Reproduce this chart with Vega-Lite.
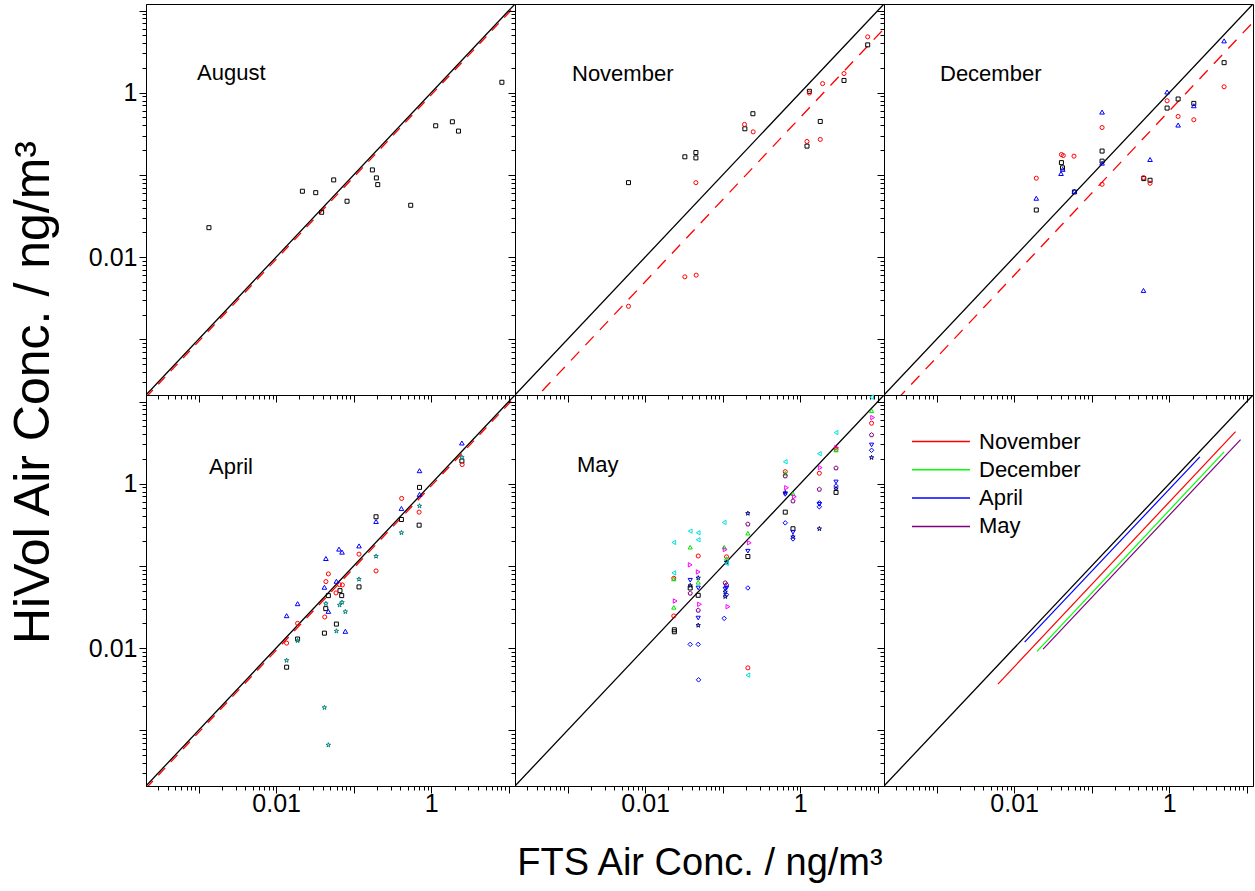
{
  "$schema": "https://vega.github.io/schema/vega-lite/v6.json",
  "background": "white",
  "padding": {"left": 7, "top": -2, "right": 0, "bottom": 0},
  "datasets": {
    "pts": [
      {"panel": "August", "series": "s1", "fts": 0.00136, "hivol": 0.0228},
      {"panel": "August", "series": "s1", "fts": 0.0218, "hivol": 0.0633},
      {"panel": "August", "series": "s1", "fts": 0.0324, "hivol": 0.0608},
      {"panel": "August", "series": "s1", "fts": 0.0552, "hivol": 0.0869},
      {"panel": "August", "series": "s1", "fts": 0.0386, "hivol": 0.0351},
      {"panel": "August", "series": "s1", "fts": 0.082, "hivol": 0.0478},
      {"panel": "August", "series": "s1", "fts": 0.174, "hivol": 0.115},
      {"panel": "August", "series": "s1", "fts": 0.196, "hivol": 0.0919},
      {"panel": "August", "series": "s1", "fts": 0.204, "hivol": 0.0762},
      {"panel": "August", "series": "s1", "fts": 0.543, "hivol": 0.0427},
      {"panel": "August", "series": "s1", "fts": 1.14, "hivol": 0.396},
      {"panel": "August", "series": "s1", "fts": 1.87, "hivol": 0.443},
      {"panel": "August", "series": "s1", "fts": 2.24, "hivol": 0.341},
      {"panel": "August", "series": "s1", "fts": 8.13, "hivol": 1.34},

      {"panel": "November", "series": "s1", "fts": 0.0061, "hivol": 0.0805},
      {"panel": "November", "series": "s1", "fts": 0.0325, "hivol": 0.166},
      {"panel": "November", "series": "s1", "fts": 0.0451, "hivol": 0.187},
      {"panel": "November", "series": "s1", "fts": 0.0451, "hivol": 0.161},
      {"panel": "November", "series": "s1", "fts": 0.193, "hivol": 0.364},
      {"panel": "November", "series": "s1", "fts": 0.245, "hivol": 0.555},
      {"panel": "November", "series": "s1", "fts": 1.31, "hivol": 1.04},
      {"panel": "November", "series": "s1", "fts": 1.81, "hivol": 0.447},
      {"panel": "November", "series": "s1", "fts": 1.22, "hivol": 0.224},
      {"panel": "November", "series": "s1", "fts": 3.66, "hivol": 1.41},
      {"panel": "November", "series": "s1", "fts": 7.4, "hivol": 3.82},
      {"panel": "November", "series": "s2", "fts": 0.0061, "hivol": 0.00252},
      {"panel": "November", "series": "s2", "fts": 0.0325, "hivol": 0.00575},
      {"panel": "November", "series": "s2", "fts": 0.0455, "hivol": 0.00603},
      {"panel": "November", "series": "s2", "fts": 0.0451, "hivol": 0.0805},
      {"panel": "November", "series": "s2", "fts": 0.191, "hivol": 0.411},
      {"panel": "November", "series": "s2", "fts": 0.247, "hivol": 0.334},
      {"panel": "November", "series": "s2", "fts": 1.22, "hivol": 0.255},
      {"panel": "November", "series": "s2", "fts": 1.81, "hivol": 0.27},
      {"panel": "November", "series": "s2", "fts": 1.31, "hivol": 0.99},
      {"panel": "November", "series": "s2", "fts": 1.94, "hivol": 1.29},
      {"panel": "November", "series": "s2", "fts": 3.66, "hivol": 1.71},
      {"panel": "November", "series": "s2", "fts": 7.4, "hivol": 4.78},

      {"panel": "December", "series": "s1", "fts": 0.0193, "hivol": 0.0374},
      {"panel": "December", "series": "s1", "fts": 0.0407, "hivol": 0.141},
      {"panel": "December", "series": "s1", "fts": 0.042, "hivol": 0.122},
      {"panel": "December", "series": "s1", "fts": 0.0598, "hivol": 0.062},
      {"panel": "December", "series": "s1", "fts": 0.136, "hivol": 0.195},
      {"panel": "December", "series": "s1", "fts": 0.136, "hivol": 0.147},
      {"panel": "December", "series": "s1", "fts": 0.469, "hivol": 0.0901},
      {"panel": "December", "series": "s1", "fts": 0.565, "hivol": 0.0861},
      {"panel": "December", "series": "s1", "fts": 0.937, "hivol": 0.65},
      {"panel": "December", "series": "s1", "fts": 1.3, "hivol": 0.838},
      {"panel": "December", "series": "s1", "fts": 2.07, "hivol": 0.741},
      {"panel": "December", "series": "s1", "fts": 5.09, "hivol": 2.32},
      {"panel": "December", "series": "s2", "fts": 0.0193, "hivol": 0.0912},
      {"panel": "December", "series": "s2", "fts": 0.0407, "hivol": 0.177},
      {"panel": "December", "series": "s2", "fts": 0.043, "hivol": 0.172},
      {"panel": "December", "series": "s2", "fts": 0.0591, "hivol": 0.169},
      {"panel": "December", "series": "s2", "fts": 0.136, "hivol": 0.377},
      {"panel": "December", "series": "s2", "fts": 0.136, "hivol": 0.0769},
      {"panel": "December", "series": "s2", "fts": 0.465, "hivol": 0.0927},
      {"panel": "December", "series": "s2", "fts": 0.565, "hivol": 0.0792},
      {"panel": "December", "series": "s2", "fts": 0.937, "hivol": 0.798},
      {"panel": "December", "series": "s2", "fts": 1.3, "hivol": 0.514},
      {"panel": "December", "series": "s2", "fts": 2.07, "hivol": 0.469},
      {"panel": "December", "series": "s2", "fts": 5.09, "hivol": 1.18},
      {"panel": "December", "series": "s10", "fts": 0.0193, "hivol": 0.052},
      {"panel": "December", "series": "s10", "fts": 0.0402, "hivol": 0.104},
      {"panel": "December", "series": "s10", "fts": 0.0423, "hivol": 0.117},
      {"panel": "December", "series": "s10", "fts": 0.0598, "hivol": 0.0633},
      {"panel": "December", "series": "s10", "fts": 0.136, "hivol": 0.581},
      {"panel": "December", "series": "s10", "fts": 0.136, "hivol": 0.139},
      {"panel": "December", "series": "s10", "fts": 0.565, "hivol": 0.154},
      {"panel": "December", "series": "s10", "fts": 0.465, "hivol": 0.00393},
      {"panel": "December", "series": "s10", "fts": 0.937, "hivol": 1.02},
      {"panel": "December", "series": "s10", "fts": 1.3, "hivol": 0.404},
      {"panel": "December", "series": "s10", "fts": 2.07, "hivol": 0.694},
      {"panel": "December", "series": "s10", "fts": 5.09, "hivol": 4.27},

      {"panel": "April", "series": "s1", "fts": 0.01365, "hivol": 0.00586},
      {"panel": "April", "series": "s1", "fts": 0.0189, "hivol": 0.0129},
      {"panel": "April", "series": "s1", "fts": 0.0419, "hivol": 0.0152},
      {"panel": "April", "series": "s1", "fts": 0.0436, "hivol": 0.0302},
      {"panel": "April", "series": "s1", "fts": 0.0471, "hivol": 0.0435},
      {"panel": "April", "series": "s1", "fts": 0.0598, "hivol": 0.0196},
      {"panel": "April", "series": "s1", "fts": 0.0665, "hivol": 0.05},
      {"panel": "April", "series": "s1", "fts": 0.07, "hivol": 0.0435},
      {"panel": "April", "series": "s1", "fts": 0.117, "hivol": 0.0555},
      {"panel": "April", "series": "s1", "fts": 0.194, "hivol": 0.396},
      {"panel": "April", "series": "s1", "fts": 0.412, "hivol": 0.367},
      {"panel": "April", "series": "s1", "fts": 0.705, "hivol": 0.902},
      {"panel": "April", "series": "s1", "fts": 0.697, "hivol": 0.313},
      {"panel": "April", "series": "s1", "fts": 2.48, "hivol": 1.89},
      {"panel": "April", "series": "s2", "fts": 0.01365, "hivol": 0.0115},
      {"panel": "April", "series": "s2", "fts": 0.0189, "hivol": 0.02},
      {"panel": "April", "series": "s2", "fts": 0.0423, "hivol": 0.0239},
      {"panel": "April", "series": "s2", "fts": 0.0438, "hivol": 0.0644},
      {"panel": "April", "series": "s2", "fts": 0.0471, "hivol": 0.0799},
      {"panel": "April", "series": "s2", "fts": 0.0591, "hivol": 0.0469},
      {"panel": "April", "series": "s2", "fts": 0.0654, "hivol": 0.0592},
      {"panel": "April", "series": "s2", "fts": 0.0714, "hivol": 0.0587},
      {"panel": "April", "series": "s2", "fts": 0.117, "hivol": 0.139},
      {"panel": "April", "series": "s2", "fts": 0.194, "hivol": 0.0869},
      {"panel": "April", "series": "s2", "fts": 0.415, "hivol": 0.662},
      {"panel": "April", "series": "s2", "fts": 0.697, "hivol": 0.451},
      {"panel": "April", "series": "s2", "fts": 2.5, "hivol": 1.71},
      {"panel": "April", "series": "s10", "fts": 0.01365, "hivol": 0.0248},
      {"panel": "April", "series": "s10", "fts": 0.0189, "hivol": 0.0347},
      {"panel": "April", "series": "s10", "fts": 0.0438, "hivol": 0.123},
      {"panel": "April", "series": "s10", "fts": 0.0419, "hivol": 0.055},
      {"panel": "April", "series": "s10", "fts": 0.0471, "hivol": 0.028},
      {"panel": "April", "series": "s10", "fts": 0.0646, "hivol": 0.16},
      {"panel": "April", "series": "s10", "fts": 0.0707, "hivol": 0.147},
      {"panel": "April", "series": "s10", "fts": 0.0598, "hivol": 0.065},
      {"panel": "April", "series": "s10", "fts": 0.078, "hivol": 0.016},
      {"panel": "April", "series": "s10", "fts": 0.117, "hivol": 0.175},
      {"panel": "April", "series": "s10", "fts": 0.194, "hivol": 0.347},
      {"panel": "April", "series": "s10", "fts": 0.412, "hivol": 0.5},
      {"panel": "April", "series": "s10", "fts": 0.705, "hivol": 1.44},
      {"panel": "April", "series": "s10", "fts": 0.705, "hivol": 0.741},
      {"panel": "April", "series": "s10", "fts": 2.48, "hivol": 3.13},
      {"panel": "April", "series": "s11", "fts": 0.01365, "hivol": 0.00708},
      {"panel": "April", "series": "s11", "fts": 0.0189, "hivol": 0.0123},
      {"panel": "April", "series": "s11", "fts": 0.0419, "hivol": 0.00189},
      {"panel": "April", "series": "s11", "fts": 0.0471, "hivol": 0.000662},
      {"panel": "April", "series": "s11", "fts": 0.0438, "hivol": 0.0347},
      {"panel": "April", "series": "s11", "fts": 0.0598, "hivol": 0.0161},
      {"panel": "April", "series": "s11", "fts": 0.0658, "hivol": 0.0334},
      {"panel": "April", "series": "s11", "fts": 0.0707, "hivol": 0.036},
      {"panel": "April", "series": "s11", "fts": 0.078, "hivol": 0.0277},
      {"panel": "April", "series": "s11", "fts": 0.117, "hivol": 0.0688},
      {"panel": "April", "series": "s11", "fts": 0.194, "hivol": 0.131},
      {"panel": "April", "series": "s11", "fts": 0.412, "hivol": 0.253},
      {"panel": "April", "series": "s11", "fts": 0.705, "hivol": 0.535},
      {"panel": "April", "series": "s11", "fts": 2.48, "hivol": 2.09},

      {"panel": "May", "series": "s5", "fts": 0.0234, "hivol": 0.193},
      {"panel": "May", "series": "s5", "fts": 0.0234, "hivol": 0.0822},
      {"panel": "May", "series": "s2", "fts": 0.0234, "hivol": 0.0707},
      {"panel": "May", "series": "s3", "fts": 0.0234, "hivol": 0.0694},
      {"panel": "May", "series": "s6", "fts": 0.0244, "hivol": 0.0374},
      {"panel": "May", "series": "s3", "fts": 0.0234, "hivol": 0.0313},
      {"panel": "May", "series": "s2", "fts": 0.0234, "hivol": 0.0246},
      {"panel": "May", "series": "s1", "fts": 0.0238, "hivol": 0.0167},
      {"panel": "May", "series": "s1", "fts": 0.0238, "hivol": 0.0158},
      {"panel": "May", "series": "s5", "fts": 0.0381, "hivol": 0.265},
      {"panel": "May", "series": "s3", "fts": 0.0381, "hivol": 0.169},
      {"panel": "May", "series": "s6", "fts": 0.0381, "hivol": 0.103},
      {"panel": "May", "series": "s4", "fts": 0.0381, "hivol": 0.0669},
      {"panel": "May", "series": "s9", "fts": 0.0381, "hivol": 0.0576},
      {"panel": "May", "series": "s1", "fts": 0.0381, "hivol": 0.0539},
      {"panel": "May", "series": "s7", "fts": 0.0381, "hivol": 0.0464},
      {"panel": "May", "series": "s8", "fts": 0.0381, "hivol": 0.0111},
      {"panel": "May", "series": "s5", "fts": 0.0483, "hivol": 0.253},
      {"panel": "May", "series": "s5", "fts": 0.0483, "hivol": 0.208},
      {"panel": "May", "series": "s2", "fts": 0.0483, "hivol": 0.132},
      {"panel": "May", "series": "s6", "fts": 0.0483, "hivol": 0.0845},
      {"panel": "May", "series": "s9", "fts": 0.0483, "hivol": 0.0714},
      {"panel": "May", "series": "s3", "fts": 0.0483, "hivol": 0.0632},
      {"panel": "May", "series": "s4", "fts": 0.0483, "hivol": 0.0539},
      {"panel": "May", "series": "s1", "fts": 0.0483, "hivol": 0.0439},
      {"panel": "May", "series": "s6", "fts": 0.0502, "hivol": 0.0341},
      {"panel": "May", "series": "s7", "fts": 0.0483, "hivol": 0.0288},
      {"panel": "May", "series": "s4", "fts": 0.0483, "hivol": 0.0232},
      {"panel": "May", "series": "s9", "fts": 0.0483, "hivol": 0.0189},
      {"panel": "May", "series": "s8", "fts": 0.0483, "hivol": 0.0111},
      {"panel": "May", "series": "s8", "fts": 0.0488, "hivol": 0.00411},
      {"panel": "May", "series": "s5", "fts": 0.1045, "hivol": 0.338},
      {"panel": "May", "series": "s3", "fts": 0.1045, "hivol": 0.169},
      {"panel": "May", "series": "s6", "fts": 0.1076, "hivol": 0.158},
      {"panel": "May", "series": "s2", "fts": 0.112, "hivol": 0.129},
      {"panel": "May", "series": "s3", "fts": 0.112, "hivol": 0.123},
      {"panel": "May", "series": "s9", "fts": 0.112, "hivol": 0.111},
      {"panel": "May", "series": "s5", "fts": 0.112, "hivol": 0.107},
      {"panel": "May", "series": "s7", "fts": 0.1076, "hivol": 0.0621},
      {"panel": "May", "series": "s7", "fts": 0.112, "hivol": 0.0586},
      {"panel": "May", "series": "s4", "fts": 0.1076, "hivol": 0.0524},
      {"panel": "May", "series": "s4", "fts": 0.112, "hivol": 0.0539},
      {"panel": "May", "series": "s9", "fts": 0.1076, "hivol": 0.0482},
      {"panel": "May", "series": "s8", "fts": 0.112, "hivol": 0.0447},
      {"panel": "May", "series": "s9", "fts": 0.1076, "hivol": 0.0423},
      {"panel": "May", "series": "s6", "fts": 0.1167, "hivol": 0.0319},
      {"panel": "May", "series": "s8", "fts": 0.1045, "hivol": 0.023},
      {"panel": "May", "series": "s9", "fts": 0.211, "hivol": 0.435},
      {"panel": "May", "series": "s7", "fts": 0.211, "hivol": 0.322},
      {"panel": "May", "series": "s3", "fts": 0.211, "hivol": 0.25},
      {"panel": "May", "series": "s6", "fts": 0.22, "hivol": 0.191},
      {"panel": "May", "series": "s4", "fts": 0.211, "hivol": 0.151},
      {"panel": "May", "series": "s1", "fts": 0.211, "hivol": 0.13},
      {"panel": "May", "series": "s8", "fts": 0.211, "hivol": 0.0539},
      {"panel": "May", "series": "s2", "fts": 0.211, "hivol": 0.00575},
      {"panel": "May", "series": "s5", "fts": 0.211, "hivol": 0.00469},
      {"panel": "May", "series": "s5", "fts": 0.64, "hivol": 1.85},
      {"panel": "May", "series": "s2", "fts": 0.64, "hivol": 1.4},
      {"panel": "May", "series": "s3", "fts": 0.64, "hivol": 1.34},
      {"panel": "May", "series": "s7", "fts": 0.64, "hivol": 1.24},
      {"panel": "May", "series": "s6", "fts": 0.665, "hivol": 0.894},
      {"panel": "May", "series": "s9", "fts": 0.64, "hivol": 0.777},
      {"panel": "May", "series": "s4", "fts": 0.64, "hivol": 0.741},
      {"panel": "May", "series": "s1", "fts": 0.64, "hivol": 0.451},
      {"panel": "May", "series": "s8", "fts": 0.64, "hivol": 0.334},
      {"panel": "May", "series": "s3", "fts": 0.805, "hivol": 0.755},
      {"panel": "May", "series": "s6", "fts": 0.838, "hivol": 0.694},
      {"panel": "May", "series": "s7", "fts": 0.805, "hivol": 0.615},
      {"panel": "May", "series": "s1", "fts": 0.805, "hivol": 0.283},
      {"panel": "May", "series": "s4", "fts": 0.805, "hivol": 0.257},
      {"panel": "May", "series": "s9", "fts": 0.805, "hivol": 0.226},
      {"panel": "May", "series": "s8", "fts": 0.805, "hivol": 0.213},
      {"panel": "May", "series": "s5", "fts": 1.76, "hivol": 2.32},
      {"panel": "May", "series": "s6", "fts": 1.81, "hivol": 1.57},
      {"panel": "May", "series": "s2", "fts": 1.76, "hivol": 1.34},
      {"panel": "May", "series": "s7", "fts": 1.76, "hivol": 0.853},
      {"panel": "May", "series": "s8", "fts": 1.76, "hivol": 0.586},
      {"panel": "May", "series": "s4", "fts": 1.76, "hivol": 0.56},
      {"panel": "May", "series": "s8", "fts": 1.76, "hivol": 0.524},
      {"panel": "May", "series": "s9", "fts": 1.76, "hivol": 0.283},
      {"panel": "May", "series": "s5", "fts": 2.89, "hivol": 4.19},
      {"panel": "May", "series": "s6", "fts": 2.94, "hivol": 2.75},
      {"panel": "May", "series": "s2", "fts": 2.89, "hivol": 2.62},
      {"panel": "May", "series": "s3", "fts": 2.89, "hivol": 2.57},
      {"panel": "May", "series": "s7", "fts": 2.89, "hivol": 1.55},
      {"panel": "May", "series": "s4", "fts": 2.89, "hivol": 1.05},
      {"panel": "May", "series": "s8", "fts": 2.89, "hivol": 0.937},
      {"panel": "May", "series": "s9", "fts": 2.89, "hivol": 0.869},
      {"panel": "May", "series": "s1", "fts": 2.89, "hivol": 0.784},
      {"panel": "May", "series": "s5", "fts": 8.3, "hivol": 11.3},
      {"panel": "May", "series": "s3", "fts": 8.3, "hivol": 7.7},
      {"panel": "May", "series": "s6", "fts": 8.57, "hivol": 6.38},
      {"panel": "May", "series": "s2", "fts": 8.3, "hivol": 5.44},
      {"panel": "May", "series": "s7", "fts": 8.3, "hivol": 3.92},
      {"panel": "May", "series": "s4", "fts": 8.3, "hivol": 2.96},
      {"panel": "May", "series": "s8", "fts": 8.3, "hivol": 2.55},
      {"panel": "May", "series": "s9", "fts": 8.3, "hivol": 2.08}
    ],
    "diag": [
      {"fts": 0.00021, "hivol": 0.00021},
      {"fts": 12, "hivol": 12}
    ],
    "fits": [
      {"panel": "August", "fts": 0.00021, "hivol": 0.000197},
      {"panel": "August", "fts": 12, "hivol": 11.3},
      {"panel": "November", "fts": 0.0002, "hivol": 0.0001},
      {"panel": "November", "fts": 12, "hivol": 6.0},
      {"panel": "December", "fts": 0.0002, "hivol": 0.00012},
      {"panel": "December", "fts": 12, "hivol": 7.2},
      {"panel": "April", "fts": 0.00021, "hivol": 0.000197},
      {"panel": "April", "fts": 12, "hivol": 11.3}
    ],
    "monthlines": [
      {"month": "November", "fts": 0.00618, "hivol": 0.00364},
      {"month": "November", "fts": 7.15, "hivol": 4.31},
      {"month": "December", "fts": 0.0197, "hivol": 0.00912},
      {"month": "December", "fts": 5.09, "hivol": 2.44},
      {"month": "April", "fts": 0.01365, "hivol": 0.01184},
      {"month": "April", "fts": 2.48, "hivol": 2.12},
      {"month": "May", "fts": 0.0236, "hivol": 0.00972},
      {"month": "May", "fts": 8.3, "hivol": 3.44}
    ]
  },
  "config": {
    "view": {"stroke": "#000000", "strokeWidth": 1},
    "axis": {
      "grid": false,
      "domainColor": "#000000",
      "tickColor": "#000000",
      "tickWidth": 1,
      "labelColor": "#000000",
      "labelFont": "Liberation Sans",
      "labelFontSize": 25,
      "titleFont": "Liberation Sans",
      "titleFontSize": 38,
      "titleFontWeight": "normal",
      "titleColor": "#000000"
    },
    "axisX": {"labelPadding": -2},
    "axisY": {"labelPadding": 2},
    "title": {"font": "Liberation Sans", "fontSize": 22, "fontWeight": "normal", "color": "#000000"}
  },
  "columns": 3,
  "spacing": 0,
  "bounds": "flush",
  "resolve": {"scale": {"stroke": "independent"}, "legend": {"stroke": "independent"}},
  "concat": [
    {
      "width": 369, "height": 391,
      "title": {"text": "August", "anchor": "start", "frame": "group", "orient": "top", "offset": 0, "dx": 51, "dy": 103, "baseline": "alphabetic"},
      "encoding": {
        "x": {"field": "fts", "type": "quantitative", "scale": {"type": "log", "domain": [0.00021, 12]},
          "axis": {"title": null, "labels": false, "values": [0.0003,0.0004,0.0005,0.0006,0.0007,0.0008,0.0009,0.001,0.002,0.003,0.004,0.005,0.006,0.007,0.008,0.009,0.01,0.02,0.03,0.04,0.05,0.06,0.07,0.08,0.09,0.1,0.2,0.3,0.4,0.5,0.6,0.7,0.8,0.9,1,2,3,4,5,6,7,8,9,10],
            "tickSize": {"condition": {"test": "indexof([0.001,0.01,0.1,1,10], datum.value) >= 0", "value": 7}, "value": 4}}},
        "y": {"field": "hivol", "type": "quantitative", "scale": {"type": "log", "domain": [0.00021, 12]},
          "axis": {"title": "HiVol Air Conc. / ng/m³", "titleFontSize": 50, "titleX": -88, "titleY": 388, "labelOverlap": false, "labelFlush": false, "labelExpr": "datum.value == 1 ? '1' : datum.value == 0.01 ? '0.01' : ''", "values": [0.0003,0.0004,0.0005,0.0006,0.0007,0.0008,0.0009,0.001,0.002,0.003,0.004,0.005,0.006,0.007,0.008,0.009,0.01,0.02,0.03,0.04,0.05,0.06,0.07,0.08,0.09,0.1,0.2,0.3,0.4,0.5,0.6,0.7,0.8,0.9,1,2,3,4,5,6,7,8,9,10],
            "tickSize": {"condition": {"test": "indexof([0.001,0.01,0.1,1,10], datum.value) >= 0", "value": 7}, "value": 4}}}
      },
      "layer": [
        {"data": {"name": "diag"}, "mark": {"type": "line", "color": "#000000", "strokeWidth": 1.3, "clip": true}, "encoding": {}},
        {"data": {"name": "fits"}, "transform": [{"filter": "datum.panel == 'August'"}], "mark": {"type": "line", "color": "#ff0000", "strokeWidth": 1.3, "strokeDash": [10, 8], "clip": true}, "encoding": {}},
        {"data": {"name": "pts"}, "transform": [{"filter": "datum.panel == 'August'"}], "mark": {"type": "point", "filled": false, "strokeWidth": 1, "opacity": 1},
          "encoding": {
            "color": {"field": "series", "type": "nominal", "legend": null, "scale": {"domain": ["s1","s2","s3","s4","s5","s6","s7","s8","s9","s10","s11"], "range": ["#000000","#ff0000","#00e000","#0000ff","#00e0e0","#ff00ff","#800080","#0000ff","#000080","#0000ff","#008080"]}},
            "shape": {"field": "series", "type": "nominal", "legend": null, "scale": {"domain": ["s1","s2","s3","s4","s5","s6","s7","s8","s9","s10","s11"], "range": ["square","circle","triangle-up","triangle-down","triangle-left","triangle-right","M0,-1L0.951,-0.309L0.588,0.809L-0.588,0.809L-0.951,-0.309Z","diamond","M0,-1L0.2245,-0.309L0.951,-0.309L0.363,0.118L0.588,0.809L0,0.382L-0.588,0.809L-0.363,0.118L-0.951,-0.309L-0.2245,-0.309Z","triangle-up","M0,-1L0.2245,-0.309L0.951,-0.309L0.363,0.118L0.588,0.809L0,0.382L-0.588,0.809L-0.363,0.118L-0.951,-0.309L-0.2245,-0.309Z"]}},
            "size": {"field": "series", "type": "nominal", "legend": null, "scale": {"domain": ["s1","s2","s3","s4","s5","s6","s7","s8","s9","s10","s11"], "range": [16,22,36,36,36,36,30,40,44,36,44]}}
          }}
      ]
    },
    {
      "width": 369, "height": 391,
      "title": {"text": "November", "anchor": "start", "frame": "group", "orient": "top", "offset": 0, "dx": 57, "dy": 99, "baseline": "alphabetic"},
      "encoding": {
        "x": {"field": "fts", "type": "quantitative", "scale": {"type": "log", "domain": [0.00021, 12]},
          "axis": {"title": null, "labels": false, "values": [0.0003,0.0004,0.0005,0.0006,0.0007,0.0008,0.0009,0.001,0.002,0.003,0.004,0.005,0.006,0.007,0.008,0.009,0.01,0.02,0.03,0.04,0.05,0.06,0.07,0.08,0.09,0.1,0.2,0.3,0.4,0.5,0.6,0.7,0.8,0.9,1,2,3,4,5,6,7,8,9,10],
            "tickSize": {"condition": {"test": "indexof([0.001,0.01,0.1,1,10], datum.value) >= 0", "value": 7}, "value": 4}}},
        "y": {"field": "hivol", "type": "quantitative", "scale": {"type": "log", "domain": [0.00021, 12]},
          "axis": {"title": null, "labels": false, "values": [0.0003,0.0004,0.0005,0.0006,0.0007,0.0008,0.0009,0.001,0.002,0.003,0.004,0.005,0.006,0.007,0.008,0.009,0.01,0.02,0.03,0.04,0.05,0.06,0.07,0.08,0.09,0.1,0.2,0.3,0.4,0.5,0.6,0.7,0.8,0.9,1,2,3,4,5,6,7,8,9,10],
            "tickSize": {"condition": {"test": "indexof([0.001,0.01,0.1,1,10], datum.value) >= 0", "value": 7}, "value": 4}}}
      },
      "layer": [
        {"data": {"name": "diag"}, "mark": {"type": "line", "color": "#000000", "strokeWidth": 1.3, "clip": true}, "encoding": {}},
        {"data": {"name": "fits"}, "transform": [{"filter": "datum.panel == 'November'"}], "mark": {"type": "line", "color": "#ff0000", "strokeWidth": 1.3, "strokeDash": [12, 9], "clip": true}, "encoding": {}},
        {"data": {"name": "pts"}, "transform": [{"filter": "datum.panel == 'November'"}], "mark": {"type": "point", "filled": false, "strokeWidth": 1, "opacity": 1},
          "encoding": {
            "color": {"field": "series", "type": "nominal", "legend": null},
            "shape": {"field": "series", "type": "nominal", "legend": null},
            "size": {"field": "series", "type": "nominal", "legend": null}
          }}
      ]
    },
    {
      "width": 369, "height": 391,
      "title": {"text": "December", "anchor": "start", "frame": "group", "orient": "top", "offset": 0, "dx": 56, "dy": 99, "baseline": "alphabetic"},
      "encoding": {
        "x": {"field": "fts", "type": "quantitative", "scale": {"type": "log", "domain": [0.00021, 12]},
          "axis": {"title": null, "labels": false, "values": [0.0003,0.0004,0.0005,0.0006,0.0007,0.0008,0.0009,0.001,0.002,0.003,0.004,0.005,0.006,0.007,0.008,0.009,0.01,0.02,0.03,0.04,0.05,0.06,0.07,0.08,0.09,0.1,0.2,0.3,0.4,0.5,0.6,0.7,0.8,0.9,1,2,3,4,5,6,7,8,9,10],
            "tickSize": {"condition": {"test": "indexof([0.001,0.01,0.1,1,10], datum.value) >= 0", "value": 7}, "value": 4}}},
        "y": {"field": "hivol", "type": "quantitative", "scale": {"type": "log", "domain": [0.00021, 12]},
          "axis": {"title": null, "labels": false, "values": [0.0003,0.0004,0.0005,0.0006,0.0007,0.0008,0.0009,0.001,0.002,0.003,0.004,0.005,0.006,0.007,0.008,0.009,0.01,0.02,0.03,0.04,0.05,0.06,0.07,0.08,0.09,0.1,0.2,0.3,0.4,0.5,0.6,0.7,0.8,0.9,1,2,3,4,5,6,7,8,9,10],
            "tickSize": {"condition": {"test": "indexof([0.001,0.01,0.1,1,10], datum.value) >= 0", "value": 7}, "value": 4}}}
      },
      "layer": [
        {"data": {"name": "diag"}, "mark": {"type": "line", "color": "#000000", "strokeWidth": 1.3, "clip": true}, "encoding": {}},
        {"data": {"name": "fits"}, "transform": [{"filter": "datum.panel == 'December'"}], "mark": {"type": "line", "color": "#ff0000", "strokeWidth": 1.3, "strokeDash": [12, 9], "clip": true}, "encoding": {}},
        {"data": {"name": "pts"}, "transform": [{"filter": "datum.panel == 'December'"}], "mark": {"type": "point", "filled": false, "strokeWidth": 1, "opacity": 1},
          "encoding": {
            "color": {"field": "series", "type": "nominal", "legend": null},
            "shape": {"field": "series", "type": "nominal", "legend": null},
            "size": {"field": "series", "type": "nominal", "legend": null}
          }}
      ]
    },
    {
      "width": 369, "height": 391,
      "title": {"text": "April", "anchor": "start", "frame": "group", "orient": "top", "offset": 0, "dx": 63, "dy": 106, "baseline": "alphabetic"},
      "encoding": {
        "x": {"field": "fts", "type": "quantitative", "scale": {"type": "log", "domain": [0.00021, 12]},
          "axis": {"title": null, "labelOverlap": false, "labelFlush": false, "labelExpr": "datum.value == 1 ? '1' : datum.value == 0.01 ? '0.01' : ''", "values": [0.0003,0.0004,0.0005,0.0006,0.0007,0.0008,0.0009,0.001,0.002,0.003,0.004,0.005,0.006,0.007,0.008,0.009,0.01,0.02,0.03,0.04,0.05,0.06,0.07,0.08,0.09,0.1,0.2,0.3,0.4,0.5,0.6,0.7,0.8,0.9,1,2,3,4,5,6,7,8,9,10],
            "tickSize": {"condition": {"test": "indexof([0.001,0.01,0.1,1,10], datum.value) >= 0", "value": 7}, "value": 4}}},
        "y": {"field": "hivol", "type": "quantitative", "scale": {"type": "log", "domain": [0.00021, 12]},
          "axis": {"title": null, "labelOverlap": false, "labelFlush": false, "labelExpr": "datum.value == 1 ? '1' : datum.value == 0.01 ? '0.01' : ''", "values": [0.0003,0.0004,0.0005,0.0006,0.0007,0.0008,0.0009,0.001,0.002,0.003,0.004,0.005,0.006,0.007,0.008,0.009,0.01,0.02,0.03,0.04,0.05,0.06,0.07,0.08,0.09,0.1,0.2,0.3,0.4,0.5,0.6,0.7,0.8,0.9,1,2,3,4,5,6,7,8,9,10],
            "tickSize": {"condition": {"test": "indexof([0.001,0.01,0.1,1,10], datum.value) >= 0", "value": 7}, "value": 4}}}
      },
      "layer": [
        {"data": {"name": "diag"}, "mark": {"type": "line", "color": "#000000", "strokeWidth": 1.3, "clip": true}, "encoding": {}},
        {"data": {"name": "fits"}, "transform": [{"filter": "datum.panel == 'April'"}], "mark": {"type": "line", "color": "#ff0000", "strokeWidth": 1.3, "strokeDash": [10, 8], "clip": true}, "encoding": {}},
        {"data": {"name": "pts"}, "transform": [{"filter": "datum.panel == 'April'"}], "mark": {"type": "point", "filled": false, "strokeWidth": 1, "opacity": 1},
          "encoding": {
            "color": {"field": "series", "type": "nominal", "legend": null},
            "shape": {"field": "series", "type": "nominal", "legend": null},
            "size": {"field": "series", "type": "nominal", "legend": null}
          }}
      ]
    },
    {
      "width": 369, "height": 391,
      "title": {"text": "May", "anchor": "start", "frame": "group", "orient": "top", "offset": 0, "dx": 62, "dy": 101, "baseline": "alphabetic"},
      "encoding": {
        "x": {"field": "fts", "type": "quantitative", "scale": {"type": "log", "domain": [0.00021, 12]},
          "axis": {"title": "FTS Air Conc. / ng/m³", "titlePadding": 28, "labelOverlap": false, "labelFlush": false, "labelExpr": "datum.value == 1 ? '1' : datum.value == 0.01 ? '0.01' : ''", "values": [0.0003,0.0004,0.0005,0.0006,0.0007,0.0008,0.0009,0.001,0.002,0.003,0.004,0.005,0.006,0.007,0.008,0.009,0.01,0.02,0.03,0.04,0.05,0.06,0.07,0.08,0.09,0.1,0.2,0.3,0.4,0.5,0.6,0.7,0.8,0.9,1,2,3,4,5,6,7,8,9,10],
            "tickSize": {"condition": {"test": "indexof([0.001,0.01,0.1,1,10], datum.value) >= 0", "value": 7}, "value": 4}}},
        "y": {"field": "hivol", "type": "quantitative", "scale": {"type": "log", "domain": [0.00021, 12]},
          "axis": {"title": null, "labels": false, "values": [0.0003,0.0004,0.0005,0.0006,0.0007,0.0008,0.0009,0.001,0.002,0.003,0.004,0.005,0.006,0.007,0.008,0.009,0.01,0.02,0.03,0.04,0.05,0.06,0.07,0.08,0.09,0.1,0.2,0.3,0.4,0.5,0.6,0.7,0.8,0.9,1,2,3,4,5,6,7,8,9,10],
            "tickSize": {"condition": {"test": "indexof([0.001,0.01,0.1,1,10], datum.value) >= 0", "value": 7}, "value": 4}}}
      },
      "layer": [
        {"data": {"name": "diag"}, "mark": {"type": "line", "color": "#000000", "strokeWidth": 1.3, "clip": true}, "encoding": {}},
        {"data": {"name": "pts"}, "transform": [{"filter": "datum.panel == 'May'"}], "mark": {"type": "point", "filled": false, "strokeWidth": 1, "opacity": 1},
          "encoding": {
            "color": {"field": "series", "type": "nominal", "legend": null},
            "shape": {"field": "series", "type": "nominal", "legend": null},
            "size": {"field": "series", "type": "nominal", "legend": null}
          }}
      ]
    },
    {
      "width": 369, "height": 391,
      "encoding": {
        "x": {"field": "fts", "type": "quantitative", "scale": {"type": "log", "domain": [0.00021, 12]},
          "axis": {"title": null, "labelOverlap": false, "labelFlush": false, "labelExpr": "datum.value == 1 ? '1' : datum.value == 0.01 ? '0.01' : ''", "values": [0.0003,0.0004,0.0005,0.0006,0.0007,0.0008,0.0009,0.001,0.002,0.003,0.004,0.005,0.006,0.007,0.008,0.009,0.01,0.02,0.03,0.04,0.05,0.06,0.07,0.08,0.09,0.1,0.2,0.3,0.4,0.5,0.6,0.7,0.8,0.9,1,2,3,4,5,6,7,8,9,10],
            "tickSize": {"condition": {"test": "indexof([0.001,0.01,0.1,1,10], datum.value) >= 0", "value": 7}, "value": 4}}},
        "y": {"field": "hivol", "type": "quantitative", "scale": {"type": "log", "domain": [0.00021, 12]},
          "axis": {"title": null, "labels": false, "values": [0.0003,0.0004,0.0005,0.0006,0.0007,0.0008,0.0009,0.001,0.002,0.003,0.004,0.005,0.006,0.007,0.008,0.009,0.01,0.02,0.03,0.04,0.05,0.06,0.07,0.08,0.09,0.1,0.2,0.3,0.4,0.5,0.6,0.7,0.8,0.9,1,2,3,4,5,6,7,8,9,10],
            "tickSize": {"condition": {"test": "indexof([0.001,0.01,0.1,1,10], datum.value) >= 0", "value": 7}, "value": 4}}}
      },
      "layer": [
        {"data": {"name": "diag"}, "mark": {"type": "line", "color": "#000000", "strokeWidth": 1.3, "clip": true}, "encoding": {}},
        {"data": {"name": "monthlines"}, "mark": {"type": "line", "strokeWidth": 1.2, "clip": true},
          "encoding": {
            "stroke": {"field": "month", "type": "nominal",
              "scale": {"domain": ["November", "December", "April", "May"], "range": ["#ff0000", "#00ff00", "#0000ff", "#800080"]},
              "legend": {"title": null, "orient": "none", "legendX": 27, "legendY": 33, "symbolType": "stroke", "symbolSize": 3364, "symbolStrokeWidth": 1.5, "symbolOpacity": 1, "clipHeight": 27, "labelFont": "Liberation Sans", "labelFontSize": 22, "labelColor": "#000000", "labelOffset": 8, "rowPadding": 1.3, "padding": 0, "labelLimit": 300}}
          }}
      ]
    }
  ]
}
